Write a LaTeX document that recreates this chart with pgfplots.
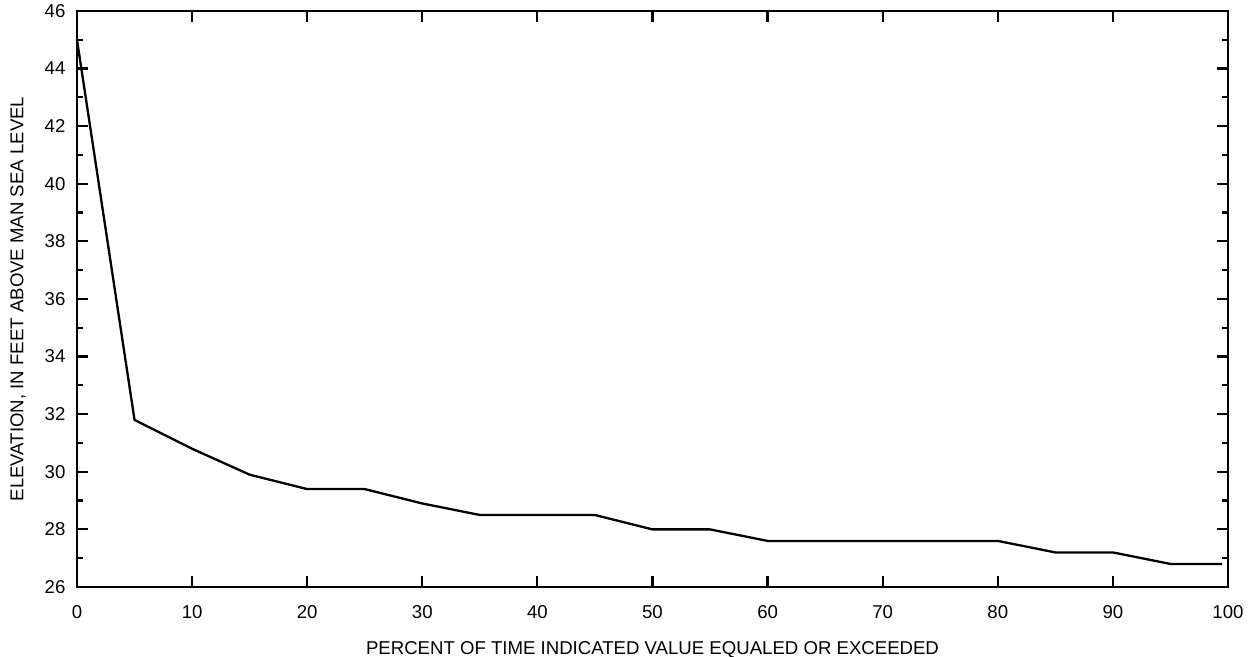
\documentclass[border=0pt]{standalone}
\usepackage{fontspec}
\setmainfont{Liberation Sans}
\usepackage{pgfplots}
\pgfplotsset{compat=1.18}
\begin{document}
\fontsize{9.3pt}{11pt}\selectfont
\begin{tikzpicture}
\begin{axis}[
  scale only axis,
  width=575.5pt, height=288pt,
  xmin=0, xmax=100, ymin=26, ymax=46,
  xtick={0,10,...,100}, ytick={26,28,...,46},
  minor ytick={27,29,...,45},
  tick align=inside,
  major tick length=5.5pt, minor tick length=3pt,
  every tick/.style={black, line width=1.1pt},
  axis line style={line width=1.2pt},
  /pgf/number format/assume math mode=true,
  ticklabel style={font=\fontsize{9.3pt}{11pt}\selectfont},
  xticklabel shift=6pt, yticklabel shift=2.5pt,
  xlabel={PERCENT OF TIME INDICATED VALUE EQUALED OR EXCEEDED},
  ylabel={ELEVATION, IN FEET ABOVE MAN SEA LEVEL},
  xlabel style={at={([yshift=-31.5pt]axis description cs:0.5,0)}, anchor=center, font=\fontsize{9.3pt}{11pt}\selectfont},
  ylabel style={at={([xshift=-29.5pt]axis description cs:0,0.5)}, anchor=center, rotate=0, font=\fontsize{9.3pt}{11pt}\selectfont},
  clip=false,
]
\addplot[black, line width=1.15pt, line join=round] coordinates {
(0,45.0) (5,31.8) (10,30.8) (15,29.9) (20,29.4) (25,29.4) (30,28.9)
(35,28.5) (40,28.5) (45,28.5) (50,28.0) (55,28.0) (60,27.6) (65,27.6)
(70,27.6) (75,27.6) (80,27.6) (85,27.2) (90,27.2) (95,26.8) (99.5,26.8)
};
\end{axis}
\pgfresetboundingbox
\path (-38.5pt,-35pt) rectangle (589pt,293.5pt);
\end{tikzpicture}
\end{document}
